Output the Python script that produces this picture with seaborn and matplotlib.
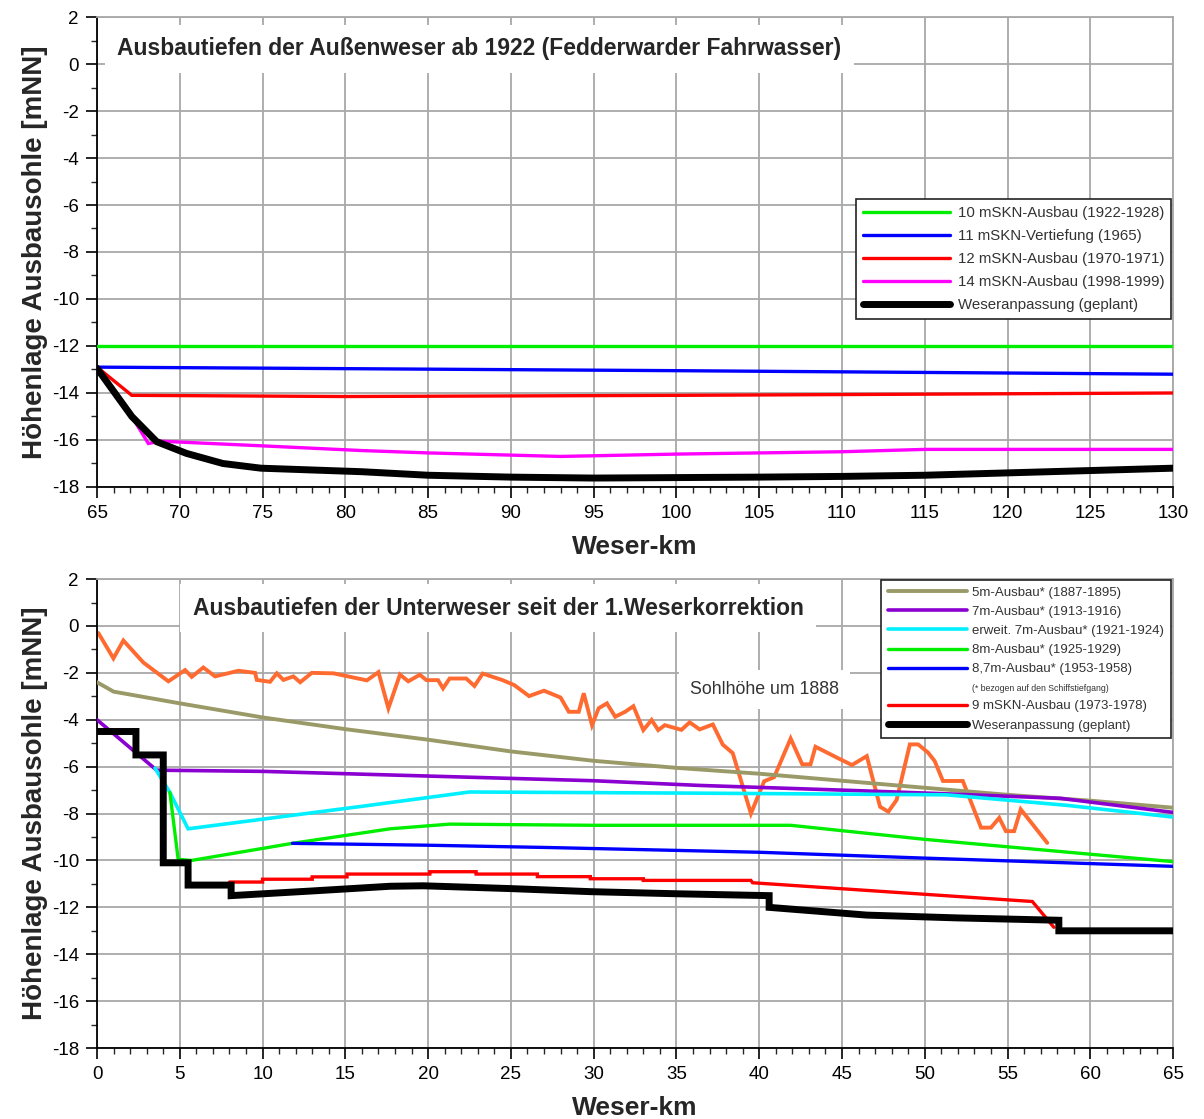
import numpy as np
import pandas as pd
import matplotlib
matplotlib.use("Agg")
import matplotlib.pyplot as plt
from matplotlib.lines import Line2D
import seaborn as sns

# ---------------- data: Außenweser (top) ----------------
top_green_km = [65, 130]
top_green_v = [-12.0, -12.0]
top_blue_km = [65, 100, 130]
top_blue_v = [-12.9, -13.05, -13.2]
top_red_km = [65, 67.1, 80, 100, 130]
top_red_v = [-12.9, -14.1, -14.15, -14.1, -14.0]
top_mag_km = [65, 67.1, 68.1, 68.8, 75, 81, 85, 93, 100, 110, 115, 130]
top_mag_v = [-12.9, -15.0, -16.15, -16.05, -16.25, -16.45, -16.55, -16.7, -16.6, -16.5, -16.4, -16.4]
top_blk_km = [65, 67.1, 68.6, 70.4, 72.6, 74.9, 81, 85, 90, 95, 100, 105, 110, 115, 120, 125, 130]
top_blk_v = [-12.95, -15.0, -16.07, -16.57, -17.0, -17.2, -17.35, -17.5, -17.58, -17.62, -17.6, -17.58, -17.55, -17.5, -17.4, -17.3, -17.2]

top_labels = ["10 mSKN-Ausbau (1922-1928)", "11 mSKN-Vertiefung (1965)",
              "12 mSKN-Ausbau (1970-1971)", "14 mSKN-Ausbau (1998-1999)",
              "Weseranpassung (geplant)"]

# ---------------- data: Unterweser (bottom) ----------------
olive_km = [0, 1, 5, 10, 15, 20, 25, 30, 35, 40, 45, 50, 55, 60, 65]
olive_v = [-2.4, -2.8, -3.3, -3.9, -4.4, -4.85, -5.35, -5.75, -6.05, -6.3, -6.6, -6.9, -7.2, -7.45, -7.75]
purple_km = [0, 3.6, 10, 20, 30, 36.4, 45, 51, 58.2, 65]
purple_v = [-4.0, -6.15, -6.2, -6.4, -6.6, -6.8, -7.0, -7.15, -7.35, -7.95]
cyan_km = [3.5, 4.4, 5.5, 15.9, 22.5, 36.4, 51.3, 58.6, 65]
cyan_v = [-6.06, -7.1, -8.65, -7.7, -7.08, -7.13, -7.2, -7.65, -8.15]
green_km = [4.4, 4.9, 5.7, 11.8, 17.7, 21.3, 30, 41.9, 50, 65]
green_v = [-7.1, -9.95, -10.0, -9.27, -8.65, -8.45, -8.5, -8.5, -9.1, -10.05]
blue_km = [11.8, 20, 27.4, 40, 50, 65]
blue_v = [-9.27, -9.35, -9.45, -9.65, -9.9, -10.25]
red_km = [8.0, 10.0, 10.0, 13.0, 13.0, 15.1, 15.1, 20.1, 20.1, 22.9, 22.9, 26.6, 26.6, 29.8, 29.8,
          33.0, 33.0, 39.5, 39.6, 56.5, 57.8]
red_v = [-10.92, -10.92, -10.8, -10.8, -10.7, -10.7, -10.58, -10.58, -10.48, -10.48, -10.58, -10.58,
         -10.69, -10.69, -10.78, -10.78, -10.85, -10.85, -10.95, -11.75, -12.85]
black_km = [0, 2.35, 2.35, 4.0, 4.0, 5.5, 5.5, 8.1, 8.1, 13, 17.7, 19.7, 25, 29.8, 35, 40.6, 40.6,
            46.5, 52, 58.1, 58.1, 65]
black_v = [-4.5, -4.5, -5.5, -5.5, -10.1, -10.1, -11.05, -11.05, -11.5, -11.3, -11.1, -11.08, -11.2,
           -11.33, -11.42, -11.5, -12.0, -12.33, -12.45, -12.55, -13.0, -13.0]
orange_km = [0.08, 0.99, 1.59, 2.8, 4.31, 5.32, 5.72, 6.42, 7.13, 8.54, 9.55, 9.65, 10.45, 10.86,
             11.26, 11.86, 12.27, 12.97, 14.28, 15.3, 16.3, 17.0, 17.6, 18.3, 18.8, 19.5, 19.9,
             20.6, 20.9, 21.3, 22.3, 22.8, 23.3, 24.5, 25.2, 26.1, 27.0, 28.0, 28.5, 29.1, 29.4,
             29.9, 30.3, 30.8, 31.3, 31.9, 32.4, 33.0, 33.5, 33.9, 34.3, 35.3, 35.8, 36.4, 37.2,
             37.8, 38.4, 39.5, 40.3, 40.9, 41.9, 42.6, 43.1, 43.4, 44.6, 45.6, 46.5, 47.3, 47.8,
             48.3, 49.1, 49.6, 50.2, 50.6, 51.1, 52.3, 53.4, 54.0, 54.5, 54.9, 55.4, 55.8, 57.4]
orange_v = [-0.3, -1.38, -0.62, -1.56, -2.36, -1.88, -2.17, -1.77, -2.15, -1.91, -2.0, -2.3, -2.38,
            -2.02, -2.3, -2.15, -2.4, -2.0, -2.02, -2.17, -2.32, -1.97, -3.51, -2.07, -2.36, -2.08,
            -2.31, -2.31, -2.66, -2.24, -2.24, -2.56, -2.03, -2.31, -2.52, -2.99, -2.76, -3.05,
            -3.66, -3.66, -2.87, -4.23, -3.51, -3.3, -3.87, -3.66, -3.42, -4.44, -4.01, -4.44,
            -4.23, -4.43, -4.11, -4.41, -4.2, -5.06, -5.42, -8.0, -6.62, -6.45, -4.8, -5.9, -5.9,
            -5.15, -5.58, -5.93, -5.55, -7.71, -7.92, -7.42, -5.05, -5.05, -5.4, -5.76, -6.61,
            -6.61, -8.6, -8.6, -8.18, -8.75, -8.75, -7.82, -9.25]

bottom_labels = ["5m-Ausbau* (1887-1895)", "7m-Ausbau* (1913-1916)",
                 "erweit. 7m-Ausbau* (1921-1924)", "8m-Ausbau* (1925-1929)",
                 "8,7m-Ausbau* (1953-1958)", "9 mSKN-Ausbau (1973-1978)",
                 "Weseranpassung (geplant)"]
note_text = "(* bezogen auf den Schiffstiefgang)"

top_title = "Ausbautiefen der Außenweser ab 1922 (Fedderwarder Fahrwasser)"
bottom_title = "Ausbautiefen der Unterweser seit der 1.Weserkorrektion"
sohl_text = "Sohlhöhe um 1888"
ylab = "Höhenlage Ausbausohle [mNN]"
xlab = "Weser-km"

# ---------------- style ----------------
sns.set_style("ticks")
plt.rcParams['font.family'] = ['Liberation Sans', 'DejaVu Sans']
plt.rcParams['axes.unicode_minus'] = False

C_GREEN = "#00ee00"
C_BLUE = "#0000ff"
C_RED = "#ff0000"
C_MAG = "#ff00ff"
C_BLACK = "#000000"
C_OLIVE = "#9a9a68"
C_PURPLE = "#8a00d0"
C_CYAN = "#00f0ff"
C_ORANGE = "#ff6a30"
GRID = "#a8a8a8"

fig = plt.figure(figsize=(12.04, 11.19), dpi=100)
ax1 = fig.add_axes([0.0806, 0.5648, 0.8937, 0.4200])
ax2 = fig.add_axes([0.0806, 0.0634, 0.8937, 0.4191])


def line(ax, km, v, color, lw, label, z=3):
    df = pd.DataFrame({"km": km, "v": v})
    sns.lineplot(data=df, x="km", y="v", ax=ax, color=color, lw=lw, label=label,
                 sort=False, estimator=None, zorder=z, solid_capstyle="round",
                 solid_joinstyle="miter")


def style_axes(ax, xmin, xmax):
    ax.set_xlim(xmin, xmax)
    ax.set_ylim(-18, 2)
    ax.set_xticks(np.arange(xmin, xmax + 1, 5))
    ax.set_xticks(np.arange(xmin, xmax + 1, 1), minor=True)
    ax.set_yticks(np.arange(-18, 3, 2))
    ax.set_yticks(np.arange(-18, 3, 1), minor=True)
    ax.grid(True, which="major", color=GRID, lw=1.3, zorder=0)
    ax.set_axisbelow(True)
    for s in ["left", "bottom"]:
        ax.spines[s].set_color("black")
        ax.spines[s].set_linewidth(1.3)
    for s in ["top", "right"]:
        ax.spines[s].set_visible(True)
        ax.spines[s].set_color(GRID)
        ax.spines[s].set_linewidth(1.3)
    ax.tick_params(which="major", direction="out", length=8, width=1.2, labelsize=13.5,
                   colors="black", pad=5)
    ax.tick_params(which="minor", direction="out", length=4, width=1.0)
    ax.set_xlabel(xlab, fontsize=19, fontweight="bold", labelpad=9)
    ax.set_ylabel(ylab, fontsize=20, fontweight="bold", labelpad=3)


# top chart
line(ax1, top_green_km, top_green_v, C_GREEN, 2.4, top_labels[0])
line(ax1, top_blue_km, top_blue_v, C_BLUE, 2.4, top_labels[1])
line(ax1, top_red_km, top_red_v, C_RED, 2.4, top_labels[2])
line(ax1, top_mag_km, top_mag_v, C_MAG, 2.4, top_labels[3])
line(ax1, top_blk_km, top_blk_v, C_BLACK, 5.0, top_labels[4], z=4)
style_axes(ax1, 65, 130)
ax1.text(0.019, 0.932, top_title, transform=ax1.transAxes, fontsize=16.5, fontweight="bold",
         va="center", ha="left", zorder=5,
         bbox=dict(facecolor="white", edgecolor="none", pad=9))
leg1 = ax1.legend(loc="upper right", bbox_to_anchor=(0.998, 0.612), frameon=True,
                  fancybox=False, edgecolor="#222222", framealpha=1, fontsize=10.8,
                  handlelength=5.8, handletextpad=0.5, borderpad=0.45, labelspacing=0.6,
                  borderaxespad=0)
leg1.get_frame().set_linewidth(1.2)
for t in leg1.get_texts():
    t.set_color("#333333")

# bottom chart
line(ax2, orange_km, orange_v, C_ORANGE, 2.8, "_nolegend_", z=2)
line(ax2, olive_km, olive_v, C_OLIVE, 2.8, bottom_labels[0])
line(ax2, purple_km, purple_v, C_PURPLE, 2.6, bottom_labels[1])
line(ax2, cyan_km, cyan_v, C_CYAN, 2.6, bottom_labels[2])
line(ax2, green_km, green_v, C_GREEN, 2.4, bottom_labels[3])
line(ax2, blue_km, blue_v, C_BLUE, 2.4, bottom_labels[4])
line(ax2, red_km, red_v, C_RED, 2.4, bottom_labels[5])
line(ax2, black_km, black_v, C_BLACK, 5.0, bottom_labels[6], z=4)
style_axes(ax2, 0, 65)
ax2.text(0.089, 0.938, bottom_title, transform=ax2.transAxes, fontsize=16.5, fontweight="bold",
         va="center", ha="left", zorder=5,
         bbox=dict(facecolor="white", edgecolor="none", pad=9))
ax2.text(0.551, 0.765, sohl_text, transform=ax2.transAxes, fontsize=12.8, color="#333333",
         va="center", ha="left", zorder=1.5,
         bbox=dict(facecolor="white", edgecolor="none", pad=8))

handles, labels = ax2.get_legend_handles_labels()
dummy = Line2D([], [], color="none", lw=0)
handles.insert(5, dummy)
labels.insert(5, note_text)
leg2 = ax2.legend(handles, labels, loc="upper right", bbox_to_anchor=(0.998, 0.998),
                  frameon=True, fancybox=False, edgecolor="#222222", framealpha=1,
                  fontsize=9.5, handlelength=6.0, handletextpad=0.4, borderpad=0.5,
                  labelspacing=0.52, borderaxespad=0)
leg2.get_frame().set_linewidth(1.2)
for i, t in enumerate(leg2.get_texts()):
    t.set_color("#333333")
    if i == 5:
        t.set_fontsize(6.3)

fig.savefig("out.png", dpi=100)
